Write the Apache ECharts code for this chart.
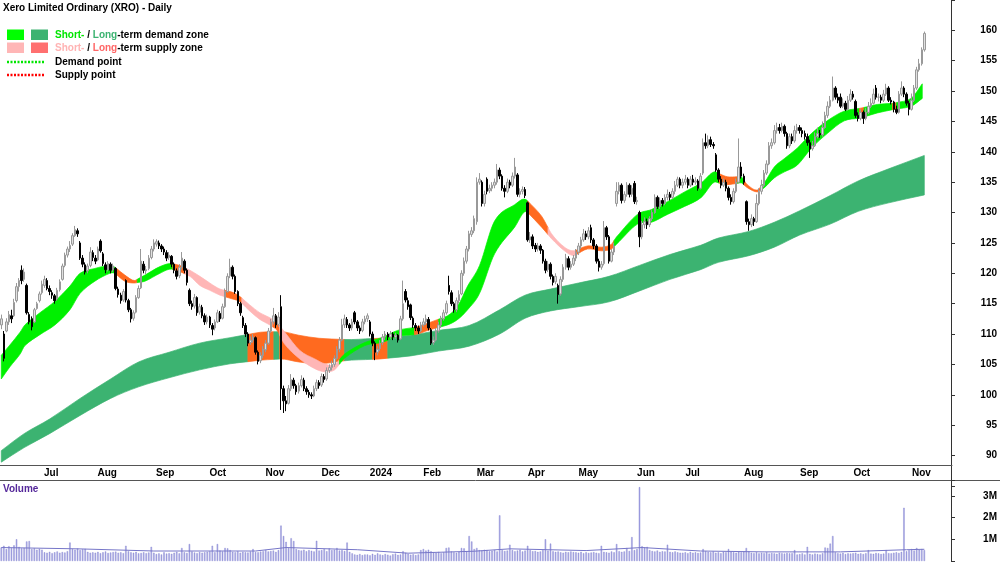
<!DOCTYPE html>
<html>
<head>
<meta charset="utf-8">
<title>Xero Limited Ordinary (XRO) - Daily</title>
<script src="https://cdn.jsdelivr.net/npm/echarts@6/dist/echarts.min.js"></script>
<style>
  html, body { margin: 0; padding: 0; background: #fff; }
  #chart { width: 1000px; height: 562px; }
</style>
</head>
<body>
<div id="chart"></div>
<script>
// month labels and trading days per month (first month is the partial June 2023)
var monthNames = ['', 'Jul', 'Aug', 'Sep', 'Oct', 'Nov', 'Dec', '2024', 'Feb', 'Mar', 'Apr', 'May', 'Jun', 'Jul', 'Aug', 'Sep', 'Oct', 'Nov'];
var monthDays = [16, 21, 23, 21, 22, 22, 19, 21, 21, 20, 20, 23, 19, 23, 22, 21, 23, 7];
var blankDays = 10;

// daily bars: [open, close, low, high]
var ohlc = [
  // Jun 2023
  [111.5,112.5,110.8,113.2],[110,106,105.5,110.5],[110.5,112,110.3,112.6],[112,113.2,111.5,113.8],[113,112.5,111.8,114],
  [113,115.2,112.8,115.8],[115.5,117.8,115.2,118.4],[117.8,118.8,117,119.2],[120.5,118.8,118.2,121.3],[119,120.2,118.6,120.8],
  [118,113.5,113.2,118.3],[113.2,112,111.6,113.6],[112.5,111.2,110.6,112.9],[112,114,111.8,114.3],[114.2,115,114,115.3],
  [115.5,116.6,115.2,117],
  // Jul
  [116.8,118.2,116.5,118.8],[118,119,117.6,119.6],[118.8,117.5,117.2,119.2],[117.5,117,116.4,118],[116.8,116.4,115.8,117.2],
  [116.3,115.5,115,116.6],[115.8,117.2,115.5,117.6],[117.3,118.6,117,119],[119,121.2,118.8,121.6],[121.3,123,121,123.4],
  [123,124,122.6,124.4],[124,124.6,123.5,125.3],[124.8,126.2,124.5,126.6],[126.2,127.2,126,127.8],[127,126.5,126,127.4],
  [125,122.5,122.2,125.3],[122.5,121.5,121,123],[121.4,120.2,119.8,121.8],[120.4,121.2,120,121.6],[121.3,123.5,121,124.3],
  [123.4,122.6,122,123.8],
  // Aug
  [122.5,122,121.5,123],[122.2,124,122,124.4],[125.3,123.7,123.4,125.6],[123.2,121.6,121.2,123.5],[121.4,120.6,120,121.8],
  [120.6,121.6,120.3,122],[121.5,120.5,120,121.8],[120.6,121.2,120.2,121.6],[120.8,117.5,117.2,121],[117.4,116.5,116,117.8],
  [116.4,115.5,115,116.8],[115.6,117,115.3,117.4],[118.8,115.6,115.2,119],[115.5,114,113.6,115.8],[114,112.5,111.9,114.3],
  [112.6,113.5,112.2,113.9],[113.6,116,113.4,116.4],[116,117.5,115.8,118],[117.6,122,117.4,124],[121.5,120.5,120,122],
  [120.4,120.6,119.8,121.2],[120.8,122.5,120.5,123],[122.6,124,122.3,124.5],
  // Sep
  [124,125,123.6,125.6],[124.8,125.2,124.4,125.6],[125,124.5,124,125.4],[124.5,124,123.5,124.8],[124,123.5,123,124.4],
  [123.4,122.5,122,123.8],[122.6,123,122.2,123.5],[122.8,121.5,121,123],[121.5,120.5,120,121.8],[120.4,119.5,119,120.8],
  [119.6,121,119.2,121.5],[121,122.5,120.6,123.5],[122,120.5,120,122.3],[120.5,118.5,118,120.8],[117.2,115,114.6,117.5],
  [115,114.5,114,115.5],[114.6,116,114.2,116.6],[116,113.5,113,116.2],[113.6,114.5,113.2,115],[114.4,113,112.6,114.8],
  [113,112,111.5,113.4],
  // Oct
  [112,112.8,111.6,113.2],[112.8,111.5,111,113],[111.4,110.8,109.8,111.8],[111,112,110.6,112.4],[112,113.5,111.8,114],
  [113.4,112.5,112,113.8],[112.6,114.5,112.4,115],[114.5,117,114.3,117.5],[117,119.5,116.8,120],[119.6,121,119.2,122.4],
  [121,119.5,119,121.3],[119.5,117,116.6,119.8],[117,115,114.6,117.2],[115,113.5,113,115.3],[112.7,111.4,111,113],
  [111.4,110,109.5,111.8],[110,108.5,108,110.3],[108.6,109,108.2,109.6],[109,109.5,108.6,110],[109.4,107,106.6,109.6],
  [107,105.5,105,107.3],[105.6,106.5,105.2,107],
  // Nov
  [106.5,107.5,106,108],[107.4,108.5,107,109],[108.5,110.5,108.2,111],[110.5,112,110.2,112.5],[112,113,111.6,114.3],
  [113,111.5,111,113.3],[111.6,112.8,111.2,113.6],[114.5,101,97.5,116.4],[101,99,97,101.5],[99,98.5,97.3,99.8],
  [98.6,101,98.4,101.6],[101,102.5,100.6,103.4],[102.4,101.5,101,102.8],[101.5,100.5,100,101.8],[100.6,101.5,100.2,102],
  [101.5,102.5,101.2,103.2],[102.4,101,100.6,102.8],[101,100.5,100,101.4],[100.4,100,99.5,100.8],[100,99.8,99.3,100.4],
  [99.8,101,99.6,101.5],[101,102,100.6,102.5],
  // Dec
  [102,101.5,101,102.4],[101.6,103,101.3,103.5],[103,102.5,102,103.4],[102.6,104,102.3,104.5],[104,104.5,103.6,105],
  [104.5,105,104,105.6],[105,106,104.6,106.5],[106,107.5,105.8,108],[107.5,109,107,109.5],[109,111.5,108.8,112.5],
  [111.5,112.5,111,113.2],[112.4,111.5,111,112.8],[111.5,111,110.5,111.8],[111,112,110.6,112.5],[113.5,112,111.6,113.8],
  [112,111,110.5,112.3],[111,110.5,110,111.4],[110.6,112,110.3,112.5],[112,112.5,111.6,113],
  // Jan 2024
  [112.5,113,112,113.4],[112,110,109.6,112.3],[110,108.5,108,110.4],[108.5,107,105.7,108.8],[107,107.5,106.5,108],
  [107.6,108.5,107.2,109],[108.6,109.5,108.2,110],[109.5,110,109,110.5],[110,109.5,109,110.3],[109.5,110,109.2,110.5],
  [110,109.5,109,110.3],[109.5,109.8,109.2,110.2],[109.8,109,108.6,110],[109.2,112.5,109,113],[112.5,115,112.2,118.8],
  [117,115.6,115.2,117.4],[115.5,114.5,114,116],[114.8,112.7,112.3,115],[112.6,111.5,111,112.9],[111.4,111,110.5,111.8],
  [111,110.5,110,111.4],
  // Feb
  [110.6,111.5,110.3,112],[111.5,112,111.2,112.6],[112,112.5,111.5,113.2],[112.4,111,110.6,112.8],[110.7,108.5,108.2,111],
  [108.6,109,108.2,109.6],[109,110.5,108.8,111],[110.5,111.5,110.2,112],[111.5,112.5,111,113],[112.5,113.5,112.2,114],
  [113.5,115,113.2,115.5],[118,117,116.5,119.6],[116.8,115,114.6,117.2],[115,114,113.5,115.3],[114,115.5,113.6,116],
  [115.5,116.5,115,117.2],[116.6,120,116.4,120.5],[120,122,119.6,122.6],[122,124,121.6,124.5],[124,126.5,123.6,127],
  [126.4,127,126,127.6],
  // Mar
  [127,129,126.6,129.5],[128.5,135,128,135.8],[135,135.5,134.6,136.5],[135,131.5,131,135.3],[131.5,133,131,133.6],
  [135.5,133.5,133,135.8],[133.6,134,133.2,134.6],[134,134.5,133.5,135],[134.5,135,134,135.6],[135,137,134.6,138],
  [137,136,135.5,137.4],[136,134,133.6,136.3],[134,133.5,132.5,134.5],[133.5,135,133.2,135.6],[135,134.5,134,135.4],
  [134.5,136,134.2,136.6],[136,137.5,135.6,139],[136.2,133,132.6,136.5],[133,133.5,132.5,134],[133.5,133.8,133,134.3],
  // Apr
  [133.8,132.8,132.4,134.2],[131.6,125.5,125.2,131.8],[125.5,126,125,126.8],[126,124.5,124,126.4],[124.6,124,123.5,125],
  [124,124.5,123.6,125],[124.5,123.8,123.2,124.8],[123.8,122,121.6,124],[122,120.5,120,122.4],[120.6,121.5,120.2,122],
  [121.5,119.5,119,121.8],[119.5,118.5,118,119.8],[118.6,119.5,118.2,120],[118,116.5,115,118.3],[116.6,119,116.3,119.5],
  [119,121,118.6,121.5],[121,122.5,120.6,123.2],[122.4,121,120.5,122.8],[121,121.5,120.6,122],[121.5,122.5,121.2,123],
  // May
  [122.5,123.5,122,124],[123.5,124.5,123,125],[124.5,125.5,124,126],[125.5,126.5,125.2,127.3],[126.5,126,125.5,127],
  [126,127,125.6,127.6],[127.5,125.5,125,128],[125.5,124.5,124,125.8],[124.5,122,121.6,124.8],[122,121,120.3,122.4],
  [121,121.5,120.6,122],[121.6,127.5,121.3,128.6],[127.5,126,125.5,127.8],[126,122,121.6,126.3],[122,123.5,121.8,124],
  [123.5,124.5,123,125],[131.5,133.5,131,135],[133.5,134.5,133,135],[134.5,132,131.5,134.8],[132,133,131.6,133.5],
  [133,134.5,132.6,135],[134.5,133,132.5,134.8],[133,134,132.6,134.5],
  // Jun
  [134.8,131.8,131.4,135.2],[131.8,132,131.3,132.6],[130,126,124.3,130.3],[126,128,125.6,128.6],[128,128.5,127.4,129.2],
  [128.5,128,127.3,129],[128,129,127.6,129.4],[129,130,128.6,130.5],[130,132.5,129.8,133],[132.5,131,130.6,132.8],
  [131,132,130.6,132.5],[132,131.5,131,132.4],[131.5,132.5,131.2,133],[132.5,133,132,133.8],[133,132.5,132,133.4],
  [132.5,133.5,132.2,134],[133.5,134.5,133,135.2],[134.5,135.5,134.2,135.9],[135.5,134.5,134,135.8],
  // Jul
  [134.5,135,134,135.6],[135,135.5,134.6,136.2],[135.5,134.5,134,135.8],[134.5,135.5,134.2,136],[135.5,135,134.5,136.2],
  [135,135.2,134.6,135.8],[135.2,134,133.6,135.5],[134,136,133.8,136.5],[136.5,141.5,136.2,142.2],[141.5,141,140.5,143],
  [141,142,140.6,142.7],[142,141.2,140.8,142.5],[141.2,141,140.5,141.6],[139.5,137,136.7,139.8],[137,135.5,135,137.3],
  [135.5,134.5,134,136],[134.5,135,134.2,135.6],[135,134,133.5,135.4],[134,132.5,132,134.3],[132.5,131.8,131.3,133],
  [131.8,133.5,131.5,134],[133.5,135,133.2,135.6],[135,137.5,134.8,142.2],
  // Aug
  [137.5,136,135.6,138.3],[136,135,134.6,136.4],[131.8,128.5,128,132],[128.5,128,127,129],[128,129,127.6,129.7],
  [129,128.5,127.8,129.3],[128.5,131.5,128.3,133],[131.5,133.5,131.2,134],[133.5,134.5,133,135.4],[134.5,136.5,134.2,137],
  [136.5,138,136.2,138.6],[138,141,137.8,141.6],[141,141.5,140.5,142.2],[141.5,143.5,141.2,144.4],[143.5,144,143,144.8],
  [144,143.5,143,144.6],[143.5,144.2,143.2,144.8],[144.2,143,142.5,144.5],[143,141,140.5,143.3],[141,142.5,140.6,143],
  [142.5,141.8,141.3,143],[141.8,143.5,141.5,144.3],
  // Sep
  [143.5,144,143,144.6],[144,143.5,143,144.4],[143.5,143,142.4,144],[143,142.5,142,143.5],[142.5,141.5,141,143],
  [141.5,140.5,139,142],[140.5,141,140.2,141.8],[141,142.5,140.8,143.2],[142.5,143,142.2,144],[143,142.8,142.3,143.6],
  [142.8,144,142.5,145],[144,146,143.8,146.6],[146,147.5,145.6,148.3],[147.5,148.5,147.2,149.2],[148.5,150.5,148.3,152.4],
  [150.5,149,148.6,150.8],[149,148.5,148,149.6],[149,147.5,147.2,149.6],[147.5,148,147.2,148.8],[148,147,146.7,148.4],
  [147,148.5,146.8,149.2],
  // Oct
  [148.5,149.5,148.2,150.3],[149.5,149,148.6,150],[148.3,146,145.6,148.6],[146,145.5,145,146.5],[145.5,146.5,145.2,147],
  [146.5,145.5,144.6,146.8],[145.5,146.5,145.2,147.2],[146.5,147.5,146.2,148.2],[147.5,148,147.2,148.8],[148,149.5,147.8,150.4],
  [150.5,149,148.6,151],[149,149,148.3,149.6],[149,148.5,148,149.4],[148.5,149.5,148.2,150.2],[149.5,150.5,149.2,151.2],
  [150.5,148.5,148.2,150.8],[148.5,148.2,147.8,149],[148.2,147,146.5,148.4],[147,146.5,146.2,147.6],[146.5,149.5,146.3,150],
  [149.5,150.5,149.2,151.6],[150.5,149.5,149,150.8],[149.5,148,147.6,149.8],
  // Nov
  [148,147,146,148.4],[147,148.5,146.8,149.6],[148.5,150.5,148.2,151],[150.5,153.5,150.2,154],[153.5,154.5,153.2,155.3],
  [154.5,156.8,154.2,157.2],[156.8,159.5,156.5,159.8]
];

// daily volume, millions of shares
var volume = [
  0.62,0.7,0.55,0.68,0.6,0.72,1.0,0.65,0.58,0.6,0.9,0.92,0.55,0.58,0.52,0.56,
  0.52,0.4,0.38,0.42,0.36,0.4,0.44,0.38,0.41,0.39,0.45,0.85,0.55,0.52,0.58,0.5,0.54,0.56,0.42,0.38,0.4,
  0.38,0.42,0.36,0.4,0.44,0.37,0.39,0.41,0.43,0.38,0.4,0.36,0.7,0.45,0.4,0.38,0.42,0.35,0.37,0.4,0.36,0.39,0.65,
  0.38,0.32,0.35,0.3,0.4,0.34,0.36,0.33,0.38,0.42,0.35,0.6,0.4,0.37,0.78,0.44,0.39,0.36,0.41,0.38,0.4,
  0.42,0.45,0.7,0.4,0.78,0.48,0.44,0.6,0.58,0.5,0.42,0.4,0.45,0.38,0.42,0.4,0.39,0.44,0.55,0.41,0.4,0.43,
  0.45,0.5,0.44,0.46,0.48,0.42,0.5,1.63,1.15,0.88,0.6,1.05,0.92,0.55,0.5,0.48,0.52,0.45,0.5,0.47,0.44,0.93,
  0.48,0.5,0.55,0.45,0.58,0.5,0.52,0.6,0.48,0.5,0.46,0.85,0.42,0.35,0.3,0.28,0.32,0.27,0.3,
  0.3,0.26,0.33,0.28,0.35,0.3,0.27,0.32,0.29,0.25,0.31,0.34,0.28,0.3,0.45,0.38,0.33,0.29,0.31,0.27,0.3,
  0.5,0.55,0.48,0.52,0.45,0.4,0.38,0.42,0.36,0.4,0.6,0.62,0.44,0.4,0.38,0.42,0.6,0.58,0.45,1.15,0.9,
  0.55,0.6,0.5,0.48,0.52,0.5,0.45,0.47,0.5,0.44,2.1,0.5,0.46,0.48,0.75,0.5,0.45,0.48,0.52,0.44,
  0.48,0.7,0.5,0.45,0.46,0.42,0.44,0.5,1.0,0.48,0.8,0.45,0.42,0.44,0.4,0.38,0.42,0.4,0.44,0.41,
  0.4,0.38,0.42,0.36,0.4,0.37,0.39,0.41,0.38,0.36,0.7,0.42,0.4,0.38,0.44,0.4,0.78,0.45,0.42,0.44,0.6,0.46,1.1,
  0.5,0.55,3.4,0.68,0.62,0.65,0.5,0.46,0.44,0.48,0.42,0.45,0.44,0.75,0.42,0.4,0.44,0.4,0.38,
  0.38,0.4,0.36,0.42,0.38,0.4,0.37,0.39,0.55,0.45,0.42,0.4,0.44,0.38,0.4,0.36,0.42,0.4,0.55,0.43,0.4,0.38,0.42,
  0.4,0.44,0.6,0.45,0.38,0.36,0.4,0.35,0.38,0.36,0.4,0.34,0.37,0.35,0.33,0.38,0.36,0.34,0.37,0.35,0.36,0.5,
  0.3,0.32,0.35,0.3,0.65,0.33,0.3,0.34,0.32,0.3,0.36,0.62,0.6,0.8,1.15,0.4,0.36,0.34,0.38,0.32,0.35,
  0.34,0.36,0.38,0.33,0.35,0.32,0.36,0.5,0.34,0.33,0.37,0.35,0.32,0.34,0.5,0.36,0.35,0.38,0.4,0.37,0.42,2.45,0.45,
  0.5,0.55,0.48,0.6,0.52,0.55,0.5
];

// volume average line: [bar index, millions]
var volumeAvg = [[0,0.62],[30,0.56],[60,0.46],[100,0.46],[112,0.62],[140,0.52],[160,0.36],[186,0.45],
  [200,0.56],[230,0.48],[252,0.62],[275,0.46],[300,0.42],[330,0.42],[356,0.52],[363,0.54]];

// short-term zone edges: [bar index, upper, lower]
var shortBand = [
  [0,106.5,102.6],[3.4,108.2,104.6],[7.4,110.3,106.7],[9.3,111.5,108.1],[15.2,113.5,109.9],[21.1,115.4,111.5],
  [27,117.9,114.0],[31,120.0,116.7],[36.8,120.8,118.7],[42.7,121.3,120.0],[44.7,121.0,120.0],[48.6,119.7,118.7],
  [52.5,118.8,118.4],[56.5,119.7,118.7],[62.4,121.1,120.0],[67,121.6,120.7],[70.2,121.3,120.3],[74.2,120.5,119.5],
  [78.1,119.5,118.0],[82,118.4,117.2],[86,117.4,116.4],[90.7,116.9,115.8],[93.8,116.2,115.4],[97.7,114.8,113.8],
  [101.7,113.5,112.4],[105.6,112.7,111.5],[108.3,112.0,110.7],[111.5,110.3,108.3],[117.4,107.3,105.9],[123.3,105.9,104.3],
  [127.2,105.1,103.8],[131.1,104.9,104.1],[135,106.7,106.0],[143,108.6,108.1],[149.6,109.4,108.6],[155.9,110.6,109.6],
  [162.6,111.1,109.9],[168.5,111.9,110.7],[175.5,113.0,111.5],[179.5,114.6,112.4],[183.4,117.9,114.0],[188.1,121.3,116.7],
  [194,128.6,123.2],[201.9,131.3,127.6],[206.6,132.1,130.2],[212.5,129.4,127.6],[216.4,126.5,125.7],[221.5,124.3,123.7],
  [225.4,123.7,122.9],[230.5,124.5,124.0],[236,124.3,123.7],[240,124.8,124.0],[242,126.0,124.8],[250.2,129.7,128.1],
  [255.7,130.5,128.4],[262,131.8,129.7],[268.7,133.4,131.0],[275.3,134.9,132.5],[280.4,136.7,135.0],[285.5,135.9,134.6],
  [291,135.9,134.9],[293.4,134.6,134.1],[297.3,133.7,133.4],[300.1,134.9,134.1],[304,137.5,135.7],[308,138.9,136.7],
  [313,140.6,137.8],[318.6,143.0,140.6],[324.8,145.1,143.0],[331.5,146.7,145.1],[338.2,147.2,145.6],[344.5,147.8,146.4],
  [351.2,148.0,147.0],[357.8,148.8,147.5],[362.2,151.2,148.8]
];

// long-term zone edges: [bar index, upper, lower]
var longBand = [
  [0,90.8,88.9],[9,93.6,91.3],[19,96.0,93.6],[31,99.4,96.6],[43,102.6,99.4],[54,105.4,101.3],[66,107.0,102.8],
  [78,108.5,104.1],[90,109.4,105.1],[102,110.3,105.7],[110,110.4,105.9],[117,109.8,105.4],[125,109.3,105.1],
  [135,109.1,105.6],[149,109.3,105.9],[161,109.8,106.4],[172,110.6,107.2],[184,111.4,108.0],[196,114.0,110.0],
  [206,116.4,112.6],[216,117.4,113.8],[227,118.4,114.5],[239,119.5,115.3],[251,121.3,117.1],[263,123.1,119.0],
  [275,124.6,120.6],[282,125.8,121.8],[294,126.9,122.9],[304,128.4,124.3],[314,130.3,126.3],[326,132.8,128.1],
  [337,135.2,130.2],[349,137.2,131.6],[363,139.4,132.9]
];

// zone state by bar range: g = demand, o = supply, p = weak supply
var shortZones = [[0,45,'g'],[45,53.5,'o'],[53.5,67.5,'g'],[67.5,72.2,'o'],[72.2,88,'p'],[88,94.6,'o'],[94.6,106.8,'p'],
  [106.8,109.5,'o'],[109.5,133,'p'],[133,162.5,'g'],[162.5,172,'o'],[172,207,'g'],[207,215,'o'],[215,226,'p'],
  [226,241,'o'],[241,282.4,'g'],[282.4,289.5,'o'],[289.5,292,'g'],[292,299,'o'],[299,337.5,'g'],[337.5,339.3,'o'],
  [339.3,350.5,'g'],[350.5,352,'o'],[352,400,'g']];
var longZones = [[0,97,'g'],[97,107.2,'o'],[107.2,109.5,'g'],[109.5,135,'o'],[135,146,'g'],[146,152,'o'],[152,400,'g']];

var shortColors = { g: '#00f000', o: '#ff6a1f', p: '#ffb6b6' };
var longColors = { g: '#3cb371', o: '#ff6a1f' };
var FONT = "bold 10px 'Liberation Sans', Arial, sans-serif";

// category axis: one slot per trading day plus some empty room on the right
var days = [];
var monthStart = {};
monthDays.forEach(function (n, m) {
    monthStart[days.length] = monthNames[m];
    for (var d = 0; d < n; d++) days.push(String(days.length));
});
for (var k = 0; k < blankDays; k++) days.push(String(days.length));
var xMax = days.length - 0.5;

// slope of one band edge at a read point (key 1 = upper, 2 = lower)
function slopeAt(band, j, key) {
    var p = band[Math.max(j - 1, 0)], q = band[Math.min(j + 1, band.length - 1)];
    return (q[key] - p[key]) / (q[0] - p[0]);
}

// nodes of a band between two bar positions, cut where the zone state changes
function zoneNodes(band, a, b) {
    function cut(x) {
        for (var j = 1; j < band.length; j++) {
            if (band[j][0] >= x) {
                var p = band[j - 1], q = band[j], t = (x - p[0]) / (q[0] - p[0]);
                return {
                    x: x, u: p[1] + (q[1] - p[1]) * t, l: p[2] + (q[2] - p[2]) * t,
                    su: (q[1] - p[1]) / (q[0] - p[0]), sl: (q[2] - p[2]) / (q[0] - p[0])
                };
            }
        }
    }
    a = Math.max(a, band[0][0]);
    b = Math.min(b, band[band.length - 1][0]);
    if (b <= a) return [];
    var nodes = [cut(a)];
    band.forEach(function (p, j) {
        if (p[0] - a > 0.8 && b - p[0] > 0.8) {
            nodes.push({ x: p[0], u: p[1], l: p[2], su: slopeAt(band, j, 1), sl: slopeAt(band, j, 2) });
        }
    });
    nodes.push(cut(b));
    return nodes;
}

function zoneSeries(band, zones, colors) {
    return {
        type: 'custom', xAxisIndex: 1, yAxisIndex: 0, silent: true, clip: true,
        encode: { x: [0, 1], y: 2 },
        data: zones.map(function (z) { return [z[0], Math.min(z[1], xMax), 120]; }),
        renderItem: function (params, api) {
            var z = zones[params.dataIndex];
            var n = zoneNodes(band, z[0], z[1]);
            if (n.length < 2) return { type: 'group', children: [] };
            function pt(x, y) { var c = api.coord([x, y]); return c[0].toFixed(2) + ' ' + c[1].toFixed(2); }
            var d = 'M' + pt(n[0].x, n[0].u);
            for (var i = 0; i < n.length - 1; i++) {
                var p = n[i], q = n[i + 1], h = (q.x - p.x) / 3;
                d += ' C' + pt(p.x + h, p.u + p.su * h) + ' ' + pt(q.x - h, q.u - q.su * h) + ' ' + pt(q.x, q.u);
            }
            d += ' L' + pt(n[n.length - 1].x, n[n.length - 1].l);
            for (var r = n.length - 1; r > 0; r--) {
                var s = n[r], t = n[r - 1], w = (s.x - t.x) / 3;
                d += ' C' + pt(s.x - w, s.l - s.sl * w) + ' ' + pt(t.x + w, t.l + t.sl * w) + ' ' + pt(t.x, t.l);
            }
            d += ' Z';
            return {
                type: 'path',
                shape: { pathData: d },
                style: { fill: colors[z[2]], stroke: colors[z[2]], lineWidth: 0.7 }
            };
        }
    };
}

var myChart = echarts.init(document.getElementById('chart'));

var option = {
    animation: false,
    backgroundColor: '#fff',
    grid: [
        { left: 0, right: 48, top: -7.86, height: 493.72 },
        { left: 0, right: 48, top: 480, height: 81 },
        { left: 0, right: 48, top: 465, height: 15 }
    ],
    xAxis: [
        { type: 'category', gridIndex: 0, data: days, show: false, boundaryGap: true },
        { type: 'value', gridIndex: 0, min: -0.5, max: xMax, show: false },
        {
            type: 'category', gridIndex: 2, data: days, position: 'top', boundaryGap: true,
            axisLine: { onZero: false, lineStyle: { color: '#555' } },
            axisTick: {
                inside: true, length: 3, alignWithLabel: true, lineStyle: { color: '#555' },
                interval: function (i) { return !!monthStart[i]; }
            },
            axisLabel: {
                inside: true, margin: 3, align: 'left', verticalAlign: 'top', padding: [0, 0, 0, 2],
                fontFamily: "'Liberation Sans', Arial", fontWeight: 'bold', fontSize: 10, color: '#000',
                interval: function (i) { return !!monthStart[i]; },
                formatter: function (v, i) { return monthStart[i] || ''; }
            }
        },
        {
            type: 'category', gridIndex: 1, data: days, position: 'top', boundaryGap: true,
            axisLine: { onZero: false, lineStyle: { color: '#555' } },
            axisTick: { show: false }, axisLabel: { show: false }
        },
        { type: 'value', gridIndex: 1, min: -0.5, max: xMax, show: false }
    ],
    yAxis: [
        {
            type: 'value', gridIndex: 0, position: 'right', min: 85, max: 165, interval: 5,
            axisLine: { show: true, onZero: false, lineStyle: { color: '#333' } },
            axisTick: { show: true, length: 4, lineStyle: { color: '#333' } },
            splitLine: { show: false },
            axisLabel: {
                margin: 46, align: 'right', fontFamily: "'Liberation Sans', Arial", fontWeight: 'bold', fontSize: 10, color: '#000',
                formatter: function (v) { return (v < 88 || v > 162) ? '' : String(v); }
            }
        },
        {
            type: 'value', gridIndex: 1, position: 'right', min: 0, max: 3.73, interval: 1,
            axisLine: { show: true, onZero: false, lineStyle: { color: '#333' } },
            axisTick: { show: true, length: 4, lineStyle: { color: '#333' } },
            splitLine: { show: false },
            axisLabel: {
                margin: 46, align: 'right', fontFamily: "'Liberation Sans', Arial", fontWeight: 'bold', fontSize: 10, color: '#000',
                formatter: function (v) { return (v >= 1 && v <= 3) ? v + 'M' : ''; }
            }
        },
        { type: 'value', gridIndex: 2, show: false }
    ],
    series: [
        zoneSeries(longBand, longZones, longColors),
        zoneSeries(shortBand, shortZones, shortColors),
        {
            type: 'candlestick', xAxisIndex: 0, yAxisIndex: 0, barWidth: 2, data: ohlc,
            itemStyle: { color: '#e0e0e0', color0: '#000', borderColor: '#999999', borderColor0: '#000', borderWidth: 1 }
        },
        {
            type: 'bar', xAxisIndex: 3, yAxisIndex: 1, barWidth: 1.4, data: volume,
            itemStyle: { color: '#a9a9e4', borderColor: '#8080d0', borderWidth: 0.4 }
        },
        {
            type: 'line', xAxisIndex: 4, yAxisIndex: 1, symbol: 'none', data: volumeAvg,
            lineStyle: { color: '#7676c8', width: 1 }
        }
    ],
    graphic: [
        { type: 'text', x: 3, y: 8.5, style: { text: 'Xero Limited Ordinary (XRO) - Daily', font: FONT, fill: '#000', verticalAlign: 'middle' } },
        { type: 'rect', shape: { x: 7, y: 29.5, width: 17, height: 10.5 }, style: { fill: '#00ff00' } },
        { type: 'rect', shape: { x: 31, y: 29.5, width: 17, height: 10.5 }, style: { fill: '#3cb371' } },
        {
            type: 'text', x: 55, y: 35,
            style: {
                text: '{a|Short-} / {b|Long}-term demand zone', font: FONT, fill: '#000', verticalAlign: 'middle',
                rich: { a: { fill: '#00e600', font: FONT }, b: { fill: '#3cb371', font: FONT } }
            }
        },
        { type: 'rect', shape: { x: 7, y: 42.5, width: 17, height: 10.5 }, style: { fill: '#ffb6b6' } },
        { type: 'rect', shape: { x: 31, y: 42.5, width: 17, height: 10.5 }, style: { fill: '#ff7070' } },
        {
            type: 'text', x: 55, y: 48,
            style: {
                text: '{a|Short-} / {b|Long}-term supply zone', font: FONT, fill: '#000', verticalAlign: 'middle',
                rich: { a: { fill: '#ffb3b3', font: FONT }, b: { fill: '#ff6666', font: FONT } }
            }
        },
        { type: 'line', shape: { x1: 7, y1: 62, x2: 44, y2: 62 }, style: { stroke: '#00e600', lineWidth: 2.5, lineDash: [2, 1.5] } },
        { type: 'text', x: 55, y: 62, style: { text: 'Demand point', font: FONT, fill: '#000', verticalAlign: 'middle' } },
        { type: 'line', shape: { x1: 7, y1: 75, x2: 44, y2: 75 }, style: { stroke: '#ff0000', lineWidth: 2.5, lineDash: [2, 1.5] } },
        { type: 'text', x: 55, y: 75, style: { text: 'Supply point', font: FONT, fill: '#000', verticalAlign: 'middle' } },
        { type: 'text', x: 3, y: 489.5, style: { text: 'Volume', font: FONT, fill: '#55289a', verticalAlign: 'middle' } },
        { type: 'line', shape: { x1: 952, y1: 480.5, x2: 1000, y2: 480.5 }, style: { stroke: '#555', lineWidth: 1 } }
    ]
};

myChart.setOption(option);
</script>
</body>
</html>
